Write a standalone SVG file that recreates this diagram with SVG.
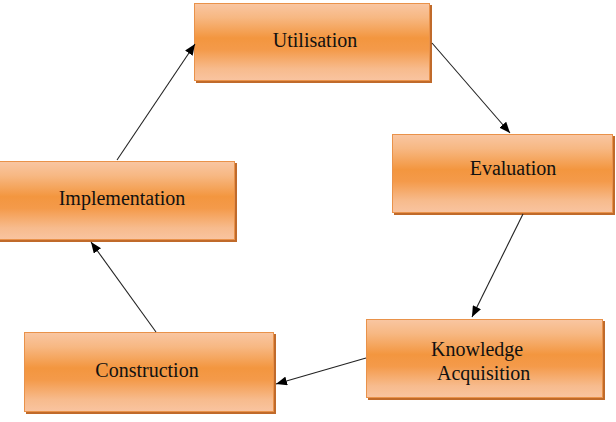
<svg xmlns="http://www.w3.org/2000/svg" width="616" height="422" viewBox="0 0 616 422">
<defs>
<linearGradient id="g" x1="0" y1="0" x2="0" y2="1">
<stop offset="0" stop-color="#f9c6a2"/>
<stop offset="0.18" stop-color="#f7b883"/>
<stop offset="0.45" stop-color="#f3963f"/>
<stop offset="0.6" stop-color="#f49a4a"/>
<stop offset="0.85" stop-color="#f7bb8d"/>
<stop offset="1" stop-color="#f9c4a0"/>
</linearGradient>
<marker id="ah" markerWidth="11" markerHeight="9" refX="11" refY="4.5" orient="auto" markerUnits="userSpaceOnUse">
<path d="M0,0 L11,4.5 L0,9 z" fill="#000"/>
</marker>
</defs>
<style>
.sh{fill:#c06a2a}
.bx{fill:url(#g);stroke:#e9924a;stroke-width:1}
.t{font-family:"Liberation Serif","Times New Roman",serif;font-size:20px;fill:#111}
.c{stroke:#222;stroke-width:1.1;fill:none;marker-end:url(#ah)}
</style>
<rect width="616" height="422" fill="#fff"/>
<g id="utilisation">
<rect class="sh" x="196" y="5" width="236" height="78"/>
<rect class="bx" x="194.5" y="3.5" width="235" height="77"/>
<text class="t" x="315" y="47" text-anchor="middle">Utilisation</text>
</g>
<g id="evaluation">
<rect class="sh" x="394" y="136" width="221" height="79"/>
<rect class="bx" x="392.5" y="134.5" width="220" height="78"/>
<text class="t" x="513" y="175" text-anchor="middle">Evaluation</text>
</g>
<g id="knowledge-acquisition">
<rect class="sh" x="368" y="321" width="237" height="79"/>
<rect class="bx" x="366.5" y="319.5" width="236" height="78"/>
<text class="t" x="431" y="356">Knowledge</text>
<text class="t" x="437" y="380">Acquisition</text>
</g>
<g id="construction">
<rect class="sh" x="26" y="334" width="250" height="80"/>
<rect class="bx" x="24.5" y="332.5" width="249" height="79"/>
<text class="t" x="147" y="377" text-anchor="middle">Construction</text>
</g>
<g id="implementation">
<rect class="sh" x="-2" y="163" width="239" height="79"/>
<rect class="bx" x="-1.5" y="161.5" width="236" height="78"/>
<text class="t" x="122" y="205" text-anchor="middle">Implementation</text>
</g>
<g id="connectors">
<line class="c" x1="432" y1="43" x2="510" y2="133"/>
<line class="c" x1="523" y1="214" x2="472" y2="317"/>
<line class="c" x1="366" y1="358" x2="276" y2="384"/>
<line class="c" x1="156" y1="332" x2="91" y2="242"/>
<line class="c" x1="117" y1="160" x2="195" y2="44"/>
</g>
</svg>
